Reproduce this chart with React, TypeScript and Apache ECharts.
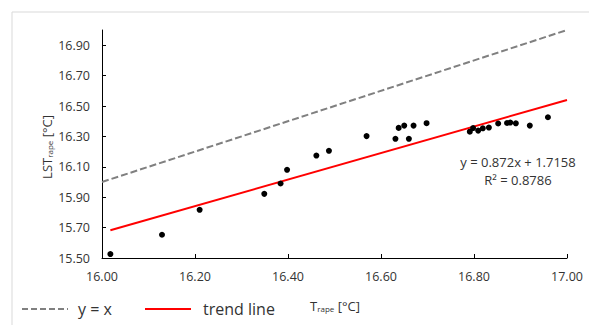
import React, { useEffect, useRef } from "react";
import * as echarts from "echarts";

// Measured points: T_rape (x) vs LST_rape (y)
const tRape = [
  16.018, 16.129, 16.21, 16.349, 16.384, 16.398, 16.461, 16.488, 16.569, 16.631,
  16.638, 16.65, 16.66, 16.67, 16.698, 16.791, 16.798, 16.809, 16.819, 16.832,
  16.852, 16.871, 16.878, 16.89, 16.92, 16.959,
];
const lstRape = [
  15.526, 15.653, 15.817, 15.922, 15.99, 16.08, 16.174, 16.205, 16.302, 16.284,
  16.356, 16.371, 16.284, 16.371, 16.387, 16.331, 16.355, 16.338, 16.353, 16.358,
  16.385, 16.388, 16.391, 16.386, 16.371, 16.426,
];

// Reference line y = x
const identityX = [16.0, 17.0];
const identityY = [16.0, 17.0];

// Trend line endpoints (as drawn)
const trendX = [16.018, 17.0];
const trendY = [15.682, 16.54];

const xTicks = [16.0, 16.2, 16.4, 16.6, 16.8, 17.0];
const yTicks = [15.5, 15.7, 15.9, 16.1, 16.3, 16.5, 16.7, 16.9];

const equationText = "y = 0.872x + 1.7158";
const r2Text = "R² = 0.8786";

const FONT = "'Open Sans', 'Noto Sans', sans-serif";
const TEXT = "#333333";

export default function App() {
  const ref = useRef<HTMLDivElement>(null);
  useEffect(() => {
    if (!ref.current) return;
    const chart = echarts.init(ref.current, null, { renderer: "svg" });
    const zip = (a: number[], b: number[]) => a.map((v, i) => [v, b[i]]);
    const richTitle = {
      a: { fontSize: 13, fontFamily: FONT, fill: TEXT, lineHeight: 18, verticalAlign: "bottom" },
      b: { fontSize: 8, fontFamily: FONT, fill: TEXT, lineHeight: 14, verticalAlign: "bottom" },
    };
    chart.setOption({
      animation: false,
      backgroundColor: "#ffffff",
      textStyle: { fontFamily: FONT },
      grid: { left: 102, right: 22, top: 30, bottom: 67, containLabel: false },
      xAxis: {
        type: "value",
        min: xTicks[0],
        max: xTicks[xTicks.length - 1],
        interval: 0.2,
        axisLine: { show: true, onZero: false, lineStyle: { color: "#000", width: 1 } },
        axisTick: { show: true, inside: true, length: 4, lineStyle: { color: "#000" } },
        axisLabel: {
          color: TEXT,
          fontSize: 12.5,
          fontFamily: FONT,
          margin: 12,
          formatter: (v: number) => v.toFixed(2),
        },
        splitLine: { show: false },
      },
      yAxis: {
        type: "value",
        min: 15.5,
        max: 17.0,
        axisLine: { show: true, onZero: false, lineStyle: { color: "#000", width: 1 } },
        axisTick: {
          show: true,
          inside: true,
          length: 4,
          lineStyle: { color: "#000" },
          customValues: yTicks,
        },
        axisLabel: {
          color: TEXT,
          fontSize: 12.5,
          fontFamily: FONT,
          margin: 12,
          customValues: yTicks,
          formatter: (v: number) => v.toFixed(2),
        },
        splitLine: { show: false },
      },
      series: [
        {
          type: "line",
          data: zip(identityX, identityY),
          showSymbol: false,
          symbol: "none",
          lineStyle: { color: "#808080", width: 2, type: [7, 3] },
          z: 2,
        },
        {
          type: "line",
          data: zip(trendX, trendY),
          showSymbol: false,
          symbol: "none",
          lineStyle: { color: "#ff0000", width: 2 },
          z: 3,
        },
        {
          type: "scatter",
          data: zip(tRape, lstRape),
          symbolSize: 6,
          itemStyle: { color: "#000", opacity: 1 },
          z: 4,
        },
      ],
      graphic: [
        {
          type: "rect",
          shape: { x: 12, y: 12, width: 700, height: 500 },
          style: { fill: "none", stroke: "#d9d9d9", lineWidth: 1 },
          silent: true,
          z: 0,
        },
        {
          type: "text",
          x: 44,
          y: 147,
          rotation: Math.PI / 2,
          style: {
            text: "{a|LST}{b|rape}{a| [°C]}",
            align: "center",
            verticalAlign: "middle",
            fill: TEXT,
            fontFamily: FONT,
            rich: richTitle,
          },
        },
        {
          type: "text",
          x: 335,
          y: 303,
          style: {
            text: "{a|T}{b|rape}{a| [°C]}",
            align: "center",
            verticalAlign: "middle",
            fill: TEXT,
            fontFamily: FONT,
            rich: richTitle,
          },
        },
        {
          type: "text",
          x: 518,
          y: 162,
          style: { text: equationText, align: "center", verticalAlign: "middle", fill: TEXT, fontSize: 13, fontFamily: FONT },
        },
        {
          type: "text",
          x: 518,
          y: 180,
          style: { text: r2Text, align: "center", verticalAlign: "middle", fill: TEXT, fontSize: 13, fontFamily: FONT },
        },
        {
          type: "line",
          shape: { x1: 22, y1: 309, x2: 68, y2: 309 },
          style: { stroke: "#808080", lineWidth: 2, lineDash: [6, 3] },
        },
        {
          type: "text",
          x: 78,
          y: 309,
          style: { text: "y = x", align: "left", verticalAlign: "middle", fill: TEXT, fontSize: 16, fontFamily: FONT },
        },
        {
          type: "line",
          shape: { x1: 145, y1: 309, x2: 191, y2: 309 },
          style: { stroke: "#ff0000", lineWidth: 2 },
        },
        {
          type: "text",
          x: 203,
          y: 309,
          style: { text: "trend line", align: "left", verticalAlign: "middle", fill: TEXT, fontSize: 16, fontFamily: FONT },
        },
      ],
    });
    return () => chart.dispose();
  }, []);
  return (
    <div
      ref={ref}
      style={{ position: "fixed", left: 0, top: 0, width: 589, height: 325, background: "#fff" }}
    />
  );
}
